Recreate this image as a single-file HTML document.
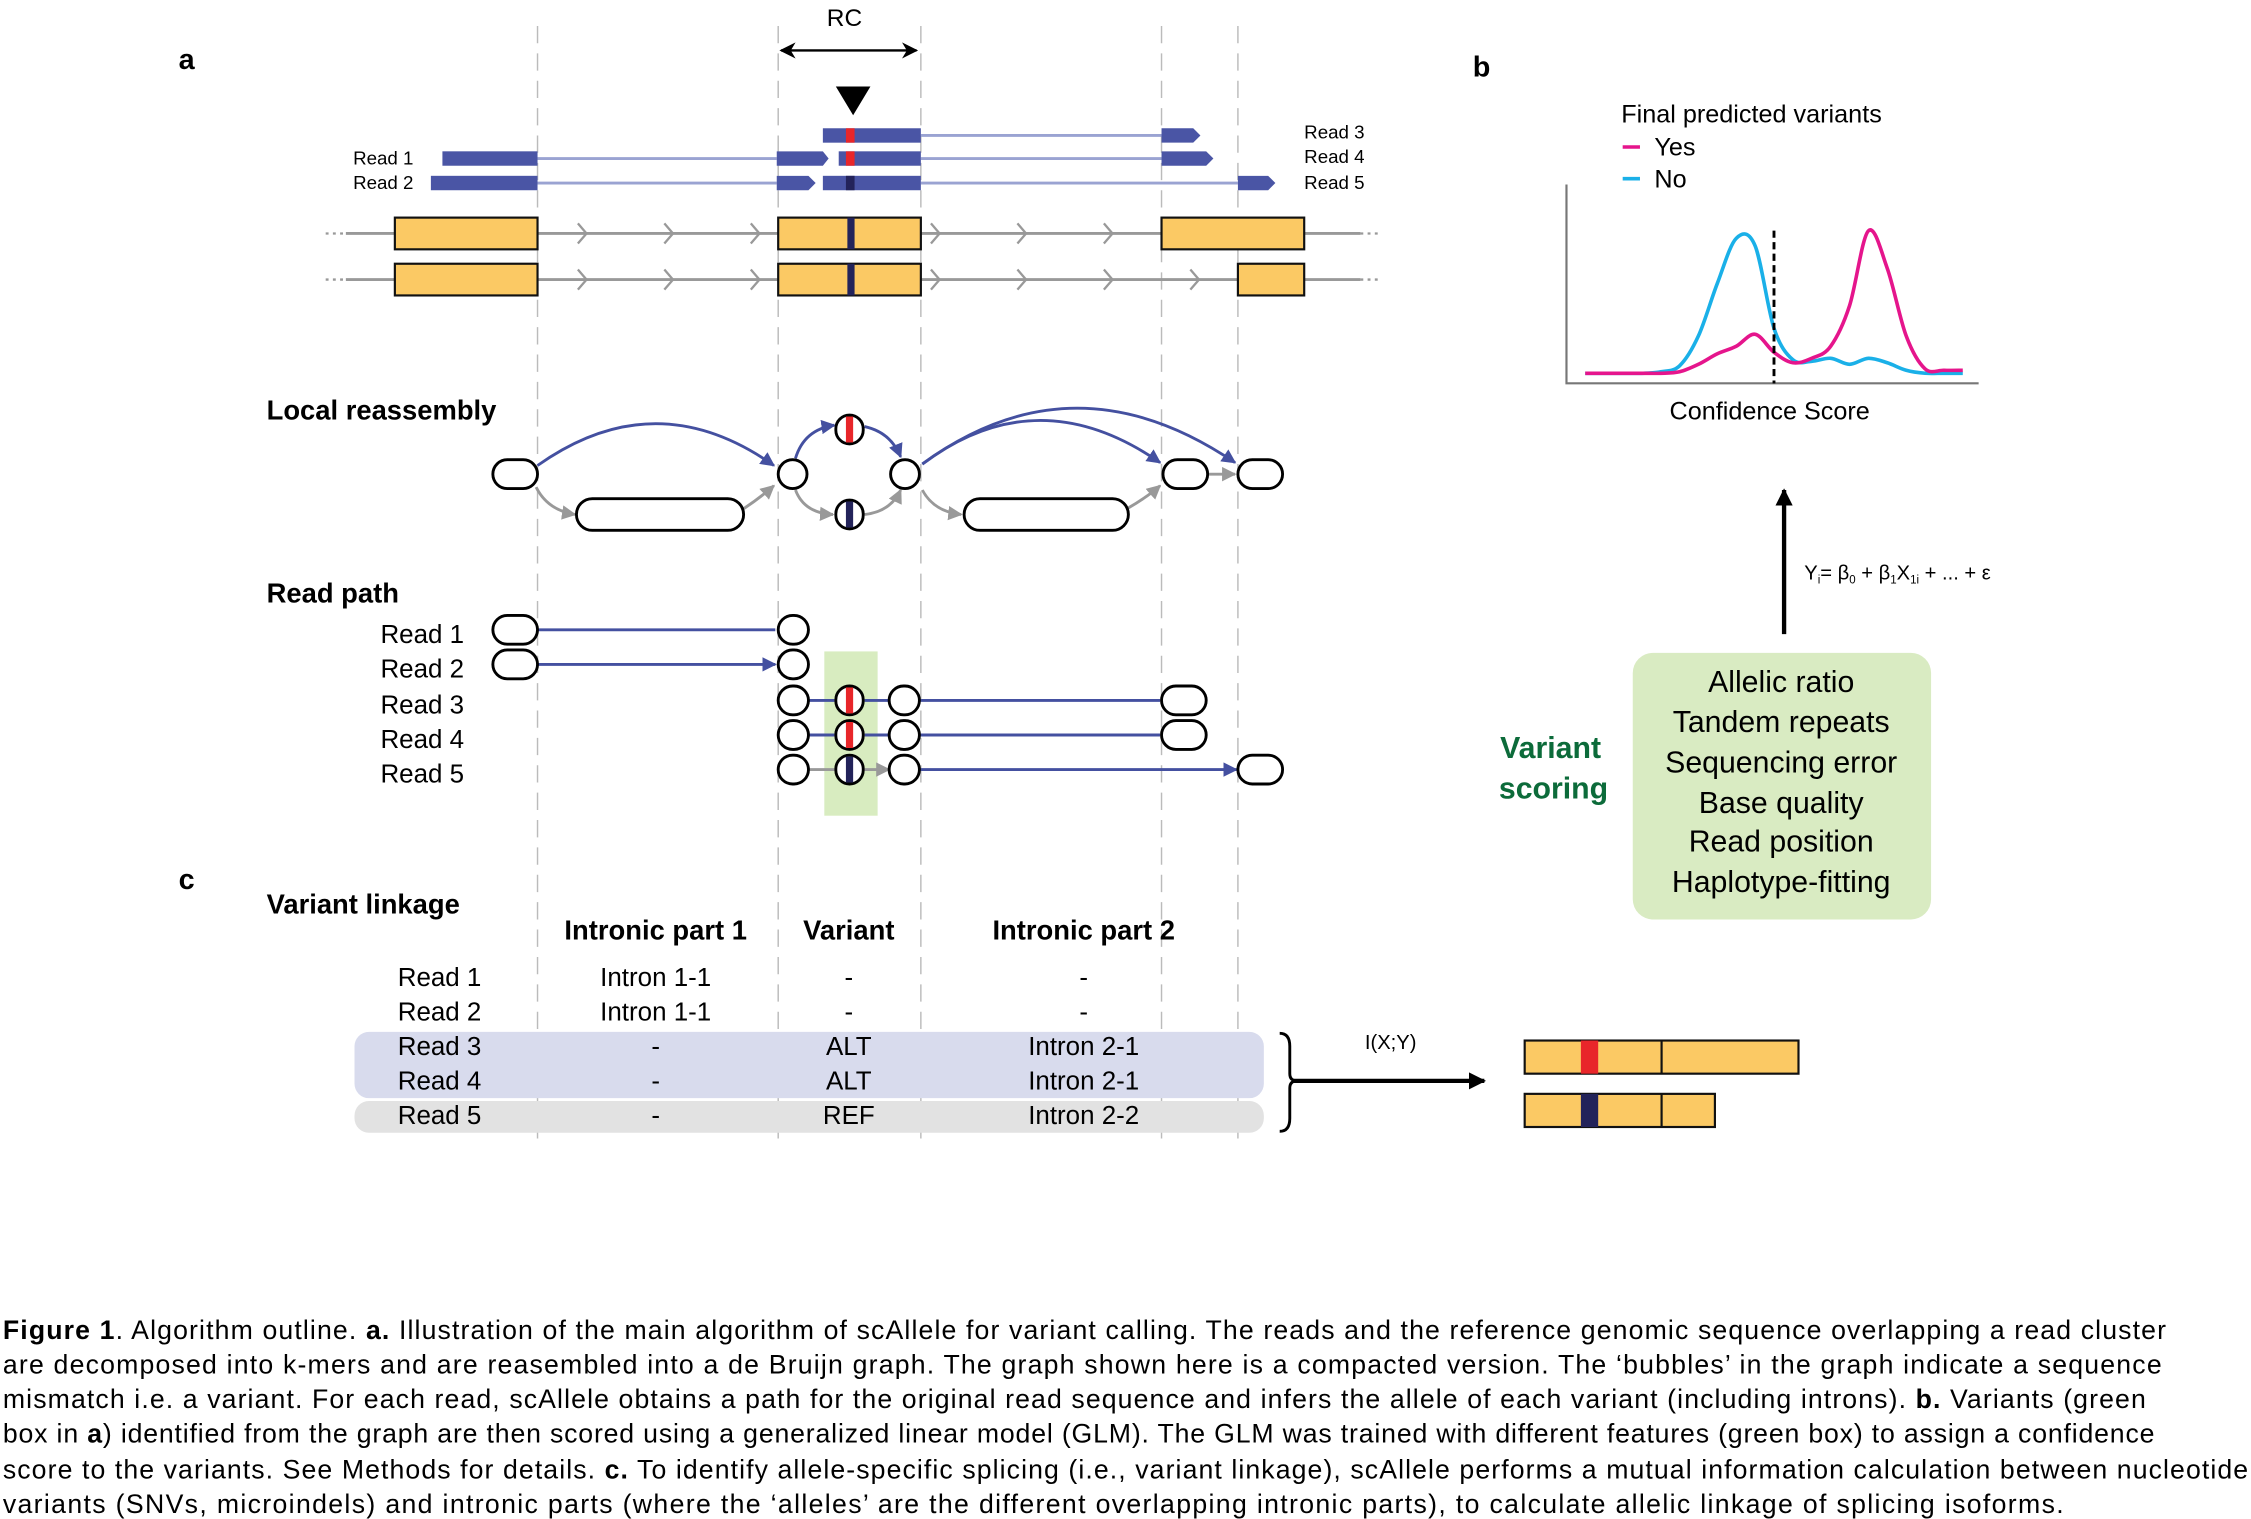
<!DOCTYPE html>
<html><head><meta charset="utf-8"><style>
html,body{margin:0;padding:0;background:#fff;}
svg{display:block;font-family:"Liberation Sans",Arial,sans-serif;}
</style></head><body>
<svg id="fig" width="2251" height="1519" viewBox="0 0 1562 1054" preserveAspectRatio="none" xmlns="http://www.w3.org/2000/svg">
<defs>
<marker id="ab" viewBox="0 0 10 10" refX="9" refY="5" markerWidth="5" markerHeight="5" orient="auto"><path d="M0,0L10,5L0,10z" fill="#4450a0"/></marker>
<marker id="ag" viewBox="0 0 10 10" refX="9" refY="5" markerWidth="5" markerHeight="5" orient="auto"><path d="M0,0L10,5L0,10z" fill="#999"/></marker>
<marker id="ak" viewBox="0 0 10 10" refX="9" refY="5" markerWidth="4" markerHeight="4" orient="auto"><path d="M0,0L10,5L0,10z" fill="#000"/></marker>
<marker id="ak2" viewBox="0 0 10 10" refX="9" refY="5" markerWidth="7" markerHeight="7" orient="auto-start-reverse"><path d="M0,0L10,5L0,10L3,5z" fill="#000"/></marker>
</defs>
<g stroke="#bbb" stroke-width="1" stroke-dasharray="12,7">
<line x1="373" y1="18" x2="373" y2="790"/><line x1="540" y1="18" x2="540" y2="790"/><line x1="639" y1="18" x2="639" y2="790"/><line x1="806" y1="18" x2="806" y2="790"/><line x1="859" y1="18" x2="859" y2="790"/>
</g>
<text x="124" y="48" font-size="20" font-weight="bold">a</text>
<text x="586" y="18" font-size="17" text-anchor="middle">RC</text>
<line x1="542" y1="35" x2="636" y2="35" stroke="#000" stroke-width="1.6" marker-start="url(#ak2)" marker-end="url(#ak2)"/>
<path d="M580,60L604,60L592,80z" fill="#000"/>
<g fill="#4a55a5">
<line x1="639" y1="94" x2="806" y2="94" stroke="#9aa3d2" stroke-width="2"/>
<line x1="373" y1="110" x2="539" y2="110" stroke="#9aa3d2" stroke-width="2"/>
<line x1="639" y1="110" x2="806" y2="110" stroke="#9aa3d2" stroke-width="2"/>
<line x1="373" y1="127" x2="539" y2="127" stroke="#9aa3d2" stroke-width="2"/>
<line x1="639" y1="127" x2="859" y2="127" stroke="#9aa3d2" stroke-width="2"/>
<rect x="571" y="89" width="68" height="10"/><path d="M806,89H828L833,94L828,99H806z"/>
<rect x="307" y="105" width="66" height="10"/><path d="M539,105H571L575,110L571,115H539z"/><rect x="582" y="105" width="57" height="10"/><path d="M806,105H837L842,110L837,115H806z"/>
<rect x="299" y="122" width="74" height="10"/><path d="M539,122H561L566,127L561,132H539z"/><rect x="571" y="122" width="68" height="10"/><path d="M859,122H880L885,127L880,132H859z"/>
<rect x="587" y="89" width="6" height="10" fill="#e8262a"/><rect x="587" y="105" width="6" height="10" fill="#e8262a"/><rect x="587" y="122" width="6" height="10" fill="#23235a"/>
</g>
<g font-size="13">
<text x="245" y="114">Read 1</text><text x="245" y="131">Read 2</text>
<text x="905" y="96">Read 3</text><text x="905" y="113">Read 4</text><text x="905" y="131">Read 5</text>
</g>
<g>
<line x1="226" y1="162" x2="958" y2="162" stroke="#999" stroke-width="2"/>
<line x1="226" y1="194" x2="958" y2="194" stroke="#999" stroke-width="2"/>
<rect x="220" y="160" width="20" height="4" fill="#fff"/><rect x="220" y="192" width="20" height="4" fill="#fff"/>
<rect x="944" y="160" width="20" height="4" fill="#fff"/><rect x="944" y="192" width="20" height="4" fill="#fff"/>
<g stroke="#999" stroke-width="1.6" fill="none">
<path d="M226,162h2M231,162h2M236,162h2M944,162h2M949,162h2M954,162h2M226,194h2M231,194h2M236,194h2M944,194h2M949,194h2M954,194h2"/>
<path d="M401,155l6,7l-6,7M461,155l6,7l-6,7M521,155l6,7l-6,7M646,155l6,7l-6,7M706,155l6,7l-6,7M766,155l6,7l-6,7"/>
<path d="M401,187l6,7l-6,7M461,187l6,7l-6,7M521,187l6,7l-6,7M646,187l6,7l-6,7M706,187l6,7l-6,7M766,187l6,7l-6,7M826,187l6,7l-6,7"/>
</g>
<g fill="#fbc964" stroke="#111" stroke-width="1.5">
<rect x="274" y="151" width="99" height="22"/><rect x="540" y="151" width="99" height="22"/><rect x="806" y="151" width="99" height="22"/>
<rect x="274" y="183" width="99" height="22"/><rect x="540" y="183" width="99" height="22"/><rect x="859" y="183" width="46" height="22"/>
</g>
<rect x="588" y="151" width="5" height="22" fill="#23235a"/><rect x="588" y="183" width="5" height="22" fill="#23235a"/>
</g>
<text x="185" y="291" font-size="19" font-weight="bold">Local reassembly</text>
<g>
<g fill="none" stroke-width="2">
<path d="M373,323 Q455,265 537,323" stroke="#4450a0" marker-end="url(#ab)"/>
<path d="M552,318 Q558,298 579,295" stroke="#4450a0" marker-end="url(#ab)"/>
<path d="M600,296 Q618,300 625,317" stroke="#4450a0" marker-end="url(#ab)"/>
<path d="M640,322 Q720,262 805,321" stroke="#4450a0" marker-end="url(#ab)"/>
<path d="M640,322 Q745,245 857,321" stroke="#4450a0" marker-end="url(#ab)"/>
<path d="M372,338 Q380,354 399,357" stroke="#999" marker-end="url(#ag)"/>
<path d="M516,353 Q528,345 537,337" stroke="#999" marker-end="url(#ag)"/>
<path d="M552,340 Q558,356 578,357" stroke="#999" marker-end="url(#ag)"/>
<path d="M600,357 Q618,355 625,340" stroke="#999" marker-end="url(#ag)"/>
<path d="M640,340 Q648,355 667,357" stroke="#999" marker-end="url(#ag)"/>
<path d="M782,353 Q796,345 805,337" stroke="#999" marker-end="url(#ag)"/>
<path d="M838,329 H857" stroke="#999" marker-end="url(#ag)"/>
</g>
<g fill="#fff" stroke="#000" stroke-width="2">
<rect x="342" y="319" width="31" height="20" rx="10"/><rect x="540" y="319" width="20" height="20" rx="10"/><rect x="618" y="319" width="20" height="20" rx="10"/>
<rect x="807" y="319" width="31" height="20" rx="10"/><rect x="859" y="319" width="31" height="20" rx="10"/>
<rect x="400" y="346" width="116" height="22" rx="11"/><rect x="669" y="346" width="114" height="22" rx="11"/>
<rect x="580" y="288" width="19" height="20" rx="9.5"/><rect x="580" y="347" width="19" height="20" rx="9.5"/>
</g>
<rect x="587" y="289" width="5" height="18" fill="#e8262a"/><rect x="587" y="348" width="5" height="18" fill="#23235a"/>
</g>
<text x="185" y="418" font-size="19" font-weight="bold">Read path</text>
<rect x="572" y="452" width="37" height="114" fill="#d8ecc0"/>
<g font-size="18">
<text x="264" y="446">Read 1</text><text x="264" y="470">Read 2</text><text x="264" y="495">Read 3</text><text x="264" y="519">Read 4</text><text x="264" y="543">Read 5</text>
</g>
<g>
<g fill="none" stroke-width="2">
<path d="M373,437H538M373,461H538" stroke="#4450a0" marker-end="url(#ab)"/>
<path d="M561,486H579M600,486H617M638,486H805M561,510H579M600,510H617M638,510H805M638,534H858" stroke="#4450a0" marker-end="url(#ab)"/>
<path d="M561,534H579M600,534H617" stroke="#999" marker-end="url(#ag)"/>
</g>
<g fill="#fff" stroke="#000" stroke-width="2">
<rect x="342" y="427" width="31" height="20" rx="10"/><rect x="342" y="451" width="31" height="20" rx="10"/>
<rect x="540" y="427" width="21" height="20" rx="10"/><rect x="540" y="451" width="21" height="20" rx="10"/>
<rect x="540" y="476" width="21" height="20" rx="10"/><rect x="540" y="500" width="21" height="20" rx="10"/><rect x="540" y="524" width="21" height="20" rx="10"/>
<rect x="580" y="476" width="19" height="20" rx="9.5"/><rect x="580" y="500" width="19" height="20" rx="9.5"/><rect x="580" y="524" width="19" height="20" rx="9.5"/>
<rect x="617" y="476" width="21" height="20" rx="10"/><rect x="617" y="500" width="21" height="20" rx="10"/><rect x="617" y="524" width="21" height="20" rx="10"/>
<rect x="806" y="476" width="31" height="20" rx="10"/><rect x="806" y="500" width="31" height="20" rx="10"/><rect x="859" y="524" width="31" height="20" rx="10"/>
</g>
<rect x="587" y="477" width="5" height="18" fill="#e8262a"/><rect x="587" y="501" width="5" height="18" fill="#e8262a"/><rect x="587" y="525" width="5" height="18" fill="#23235a"/>
</g>
<text x="1022" y="53" font-size="20" font-weight="bold">b</text>
<text x="1125" y="85" font-size="17.5">Final predicted variants</text>
<line x1="1126" y1="102" x2="1138" y2="102" stroke="#e5158c" stroke-width="2.5"/>
<text x="1148" y="108" font-size="17.5">Yes</text>
<line x1="1126" y1="124" x2="1138" y2="124" stroke="#1ab0e8" stroke-width="2.5"/>
<text x="1148" y="130" font-size="17.5">No</text>
<g id="chart"></g>
<text x="1228" y="291" font-size="17.5" text-anchor="middle">Confidence Score</text>
<line x1="1238" y1="440" x2="1238" y2="340" stroke="#000" stroke-width="3" marker-end="url(#ak)"/>
<text x="1252" y="402" font-size="14">Y<tspan font-size="8" dy="3">i</tspan><tspan dy="-3">= β</tspan><tspan font-size="8" dy="3">0</tspan><tspan dy="-3"> + β</tspan><tspan font-size="8" dy="3">1</tspan><tspan dy="-3">X</tspan><tspan font-size="8" dy="3">1i</tspan><tspan dy="-3"> + ... + ε</tspan></text>
<rect x="1133" y="453" width="207" height="185" rx="14" fill="#d9ebc2"/>
<g font-size="21" text-anchor="middle">
<text x="1236" y="480">Allelic ratio</text><text x="1236" y="508">Tandem repeats</text><text x="1236" y="536">Sequencing error</text>
<text x="1236" y="564">Base quality</text><text x="1236" y="591">Read position</text><text x="1236" y="619">Haplotype-fitting</text>
</g>
<g font-size="21" font-weight="bold" fill="#0c6b3a" text-anchor="middle">
<text x="1076" y="526">Variant</text><text x="1078" y="554">scoring</text>
</g>
<text x="124" y="617" font-size="20" font-weight="bold">c</text>
<text x="185" y="634" font-size="19" font-weight="bold">Variant linkage</text>
<rect x="246" y="716" width="631" height="46" rx="10" fill="#d8dbed"/>
<rect x="246" y="764" width="631" height="22" rx="10" fill="#e2e2e2"/>
<g font-size="19" font-weight="bold" text-anchor="middle">
<text x="455" y="652">Intronic part 1</text><text x="589" y="652">Variant</text><text x="752" y="652">Intronic part 2</text>
</g>
<g font-size="18" text-anchor="middle">
<text x="305" y="684">Read 1</text><text x="455" y="684">Intron 1-1</text><text x="589" y="684">-</text><text x="752" y="684">-</text>
<text x="305" y="708">Read 2</text><text x="455" y="708">Intron 1-1</text><text x="589" y="708">-</text><text x="752" y="708">-</text>
<text x="305" y="732">Read 3</text><text x="455" y="732">-</text><text x="589" y="732">ALT</text><text x="752" y="732">Intron 2-1</text>
<text x="305" y="756">Read 4</text><text x="455" y="756">-</text><text x="589" y="756">ALT</text><text x="752" y="756">Intron 2-1</text>
<text x="305" y="780">Read 5</text><text x="455" y="780">-</text><text x="589" y="780">REF</text><text x="752" y="780">Intron 2-2</text>
</g>
<path d="M888,717 Q895,717 895,726 L895,745 Q895,750 900,750 Q895,750 895,755 L895,776 Q895,785 888,785" fill="none" stroke="#000" stroke-width="2"/>
<line x1="897" y1="750" x2="1030" y2="750" stroke="#000" stroke-width="3" marker-end="url(#ak)"/>
<text x="965" y="728" font-size="14" text-anchor="middle">I(X;Y)</text>
<g stroke="#111" stroke-width="1.5">
<rect x="1058" y="722" width="190" height="23" fill="#fbc964"/><rect x="1097" y="722" width="12" height="23" fill="#e8262a" stroke="none"/><line x1="1153" y1="722" x2="1153" y2="745"/>
<rect x="1058" y="759" width="132" height="23" fill="#fbc964"/><rect x="1097" y="759" width="12" height="23" fill="#23235a" stroke="none"/><line x1="1153" y1="759" x2="1153" y2="782"/>
</g>
<g font-size="18.5">
<text x="2" y="929" textLength="1501" lengthAdjust="spacing"><tspan font-weight="bold">Figure 1</tspan>. Algorithm outline. <tspan font-weight="bold">a.</tspan> Illustration of the main algorithm of scAllele for variant calling. The reads and the reference genomic sequence overlapping a read cluster</text>
<text x="2" y="953" textLength="1498" lengthAdjust="spacing">are decomposed into k-mers and are reasembled into a de Bruijn graph. The graph shown here is a compacted version. The ‘bubbles’ in the graph indicate a sequence</text>
<text x="2" y="977" textLength="1487" lengthAdjust="spacing">mismatch i.e. a variant. For each read, scAllele obtains a path for the original read sequence and infers the allele of each variant (including introns). <tspan font-weight="bold">b.</tspan> Variants (green</text>
<text x="2" y="1001" textLength="1493" lengthAdjust="spacing">box in <tspan font-weight="bold">a</tspan>) identified from the graph are then scored using a generalized linear model (GLM). The GLM was trained with different features (green box) to assign a confidence</text>
<text x="2" y="1026" textLength="1558" lengthAdjust="spacing">score to the variants. See Methods for details. <tspan font-weight="bold">c.</tspan> To identify allele-specific splicing (i.e., variant linkage), scAllele performs a mutual information calculation between nucleotide</text>
<text x="2" y="1050" textLength="1430" lengthAdjust="spacing">variants (SNVs, microindels) and intronic parts (where the ‘alleles’ are the different overlapping intronic parts), to calculate allelic linkage of splicing isoforms.</text>
</g>
</svg>
<script>
const scores = [0,0.05,0.1,0.15,0.2,0.25,0.3,0.35,0.4,0.45,0.5,0.55,0.6,0.65,0.7,0.75,0.8,0.85,0.9,0.95,1];
const noDensity = [0,0,0,0,0.01,0.05,0.25,0.6,0.9,0.85,0.3,0.09,0.08,0.1,0.06,0.1,0.07,0.02,0,0,0];
const yesDensity = [0,0,0,0,0,0.01,0.06,0.13,0.18,0.26,0.14,0.07,0.1,0.18,0.45,0.95,0.7,0.25,0.03,0.02,0.02];
const threshold = [0.5];
const NS='http://www.w3.org/2000/svg';
const g=document.getElementById('chart');
const xS=s=>1100+s*262, yS=d=>259-d*104;
function mk(t,a){const e=document.createElementNS(NS,t);for(const k in a)e.setAttribute(k,a[k]);g.appendChild(e);return e;}
const ax=mk('path',{d:'M1087,128V266H1373',fill:'none',stroke:'#777','stroke-width':1.5});


function smooth(vals){const p=scores.map((s,i)=>[xS(s),yS(vals[i])]);let d='M'+p[0][0]+','+p[0][1];
for(let i=0;i<p.length-1;i++){const p0=p[Math.max(0,i-1)],p1=p[i],p2=p[i+1],p3=p[Math.min(p.length-1,i+2)];
d+=' C'+(p1[0]+(p2[0]-p0[0])/6)+','+(p1[1]+(p2[1]-p0[1])/6)+' '+(p2[0]-(p3[0]-p1[0])/6)+','+(p2[1]-(p3[1]-p1[1])/6)+' '+p2[0]+','+p2[1];}return d;}
const no=mk('path',{d:smooth(noDensity),fill:'none',stroke:'#1ab0e8','stroke-width':2.5});


const yes=mk('path',{d:smooth(yesDensity),fill:'none',stroke:'#e5158c','stroke-width':2.5});


const th=mk('line',{x1:xS(threshold[0]),x2:xS(threshold[0]),y1:160,y2:266,stroke:'#000','stroke-width':2,'stroke-dasharray':'5,3'});


</script>
</body></html>
